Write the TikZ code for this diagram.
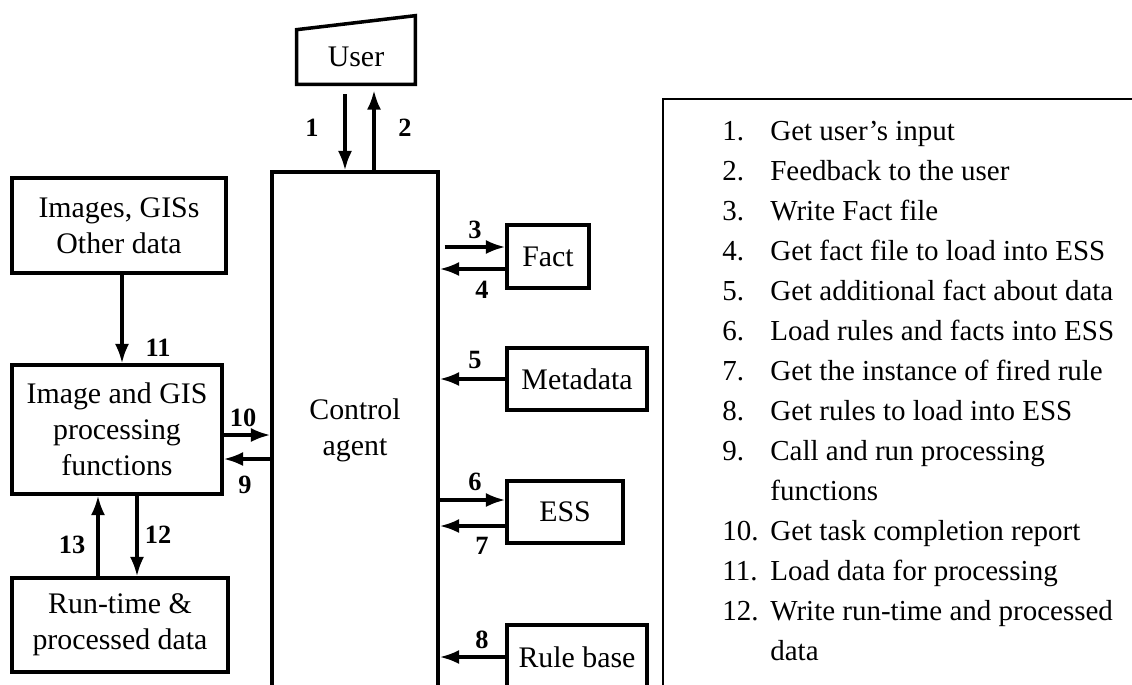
\documentclass[tikz,border=0pt]{standalone}
\usepackage{fontspec}
\setmainfont{Liberation Serif}
\usetikzlibrary{arrows.meta,calc}

\begin{document}
\begin{tikzpicture}[x=0.02cm,y=-0.02cm,>={Latex[length=11pt,width=8pt]},
  box/.style={draw,line width=2pt,inner sep=0pt,align=center,font=\fontsize{17}{20.5}\selectfont},
  flow/.style={->,line width=1.8pt},
  num/.style={inner sep=0pt,font=\fontsize{15}{15}\selectfont\bfseries},
  item/.style={anchor=base west,inner sep=0pt,font=\fontsize{16.5}{18}\selectfont}]

	\useasboundingbox (0,0) rectangle (1132,684);

	% boxes
	\node[inner sep=0pt,minimum width=2.36cm,minimum height=1.08cm,font=\fontsize{17}{19.5}\selectfont] (user) at (356,57) {User};
	\draw[line width=2pt] (user.south west) -- (user.north west) -- ($(user.north east)+(0,-14)$) -- (user.south east) -- cycle;
	\node[box,minimum width=3.32cm,minimum height=10.32cm] (ctrl) at (355,430) {Control\\agent};
	\node[box,minimum width=4.28cm,minimum height=1.9cm] (imgs) at (119,225.5) {Images, GISs\\Other data};
	\node[box,minimum width=4.2cm,minimum height=2.58cm] (proc) at (117,429.5) {Image and GIS\\processing\\functions};
	\node[box,minimum width=4.32cm,minimum height=1.88cm] (run) at (120,625) {Run-time \&\\processed data};
	\node[box,minimum width=1.64cm,minimum height=1.26cm] (fact) at (548,256.5) {Fact};
	\node[box,minimum width=2.8cm,minimum height=1.24cm] (meta) at (577,379) {Metadata};
	\node[box,minimum width=2.32cm,minimum height=1.24cm] (ess) at (565,512) {ESS};
	\node[box,minimum width=2.8cm,minimum height=1.28cm] (rule) at (577,657) {Rule base};

	% where the arrows run
	\coordinate (a1) at (345,0);
	\coordinate (a2) at (374,0);
	\coordinate (a11) at (122,0);
	\coordinate (a13) at (98,0);
	\coordinate (a12) at (137,0);
	\coordinate (a3) at (0,247);
	\coordinate (a4) at (0,269);
	\coordinate (a6) at (0,500);
	\coordinate (a7) at (0,526);
	\coordinate (a10) at (0,435);
	\coordinate (a9) at (0,459);

	\draw[flow,shorten <=0.2cm] (user.south -| a1) -- (ctrl.north -| a1);
	\draw[flow,shorten >=0.12cm] (ctrl.north -| a2) -- (user.south -| a2);
	\draw[flow,shorten <=0.1cm] (ctrl.east |- a3) -- (fact.west |- a3);
	\draw[flow] (fact.west |- a4) -- (ctrl.east |- a4);
	\draw[flow] (meta.west) -- (ctrl.east |- meta.west);
	\draw[flow] (ctrl.east |- a6) -- (ess.west |- a6);
	\draw[flow] (ess.west |- a7) -- (ctrl.east |- a7);
	\draw[flow] (rule.west) -- (ctrl.east |- rule.west);
	\draw[flow] (imgs.south -| a11) -- (proc.north -| a11);
	\draw[flow] (proc.east |- a10) -- (ctrl.west |- a10);
	\draw[flow] (ctrl.west |- a9) -- (proc.east |- a9);
	\draw[flow] (proc.south -| a12) -- (run.north -| a12);
	\draw[flow] (run.north -| a13) -- (proc.south -| a13);

	% arrow numbers
	\node[num] (l1) at (312,128) {1};
	\node[num] (l2) at (405,128) {2};
	\node[num] (l3) at (475,230) {3};
	\node[num] (l4) at (482,290) {4};
	\node[num] (l5) at (475,360) {5};
	\node[num] (l6) at (475,482) {6};
	\node[num] (l7) at (482,546) {7};
	\node[num] (l8) at (482,640) {8};
	\node[num] (l9) at (245,485) {9};
	\node[num] (l10) at (243,418) {10};
	\node[num] (l11) at (158,348) {11};
	\node[num] (l12) at (158,535) {12};
	\node[num] (l13) at (72,545) {13};

	% legend
	\draw[line width=0.9pt] (663,99) rectangle (1140,690);
	\foreach \n/\t [count=\i from 0] in {1./Get user's input, 2./Feedback to the user, 3./Write Fact file, 4./Get fact file to load into ESS, 5./Get additional fact about data, 6./Load rules and facts into ESS, 7./Get the instance of fired rule, 8./Get rules to load into ESS, 9./Call and run processing, /functions, 10./Get task completion report, 11./Load data for processing, 12./Write run-time and processed, /data}
	{
		\node[item] (n\i) at (722,140+40*\i) {\n};
		\node[item] (t\i) at (770,140+40*\i) {\t};
	}
\end{tikzpicture}
\end{document}
